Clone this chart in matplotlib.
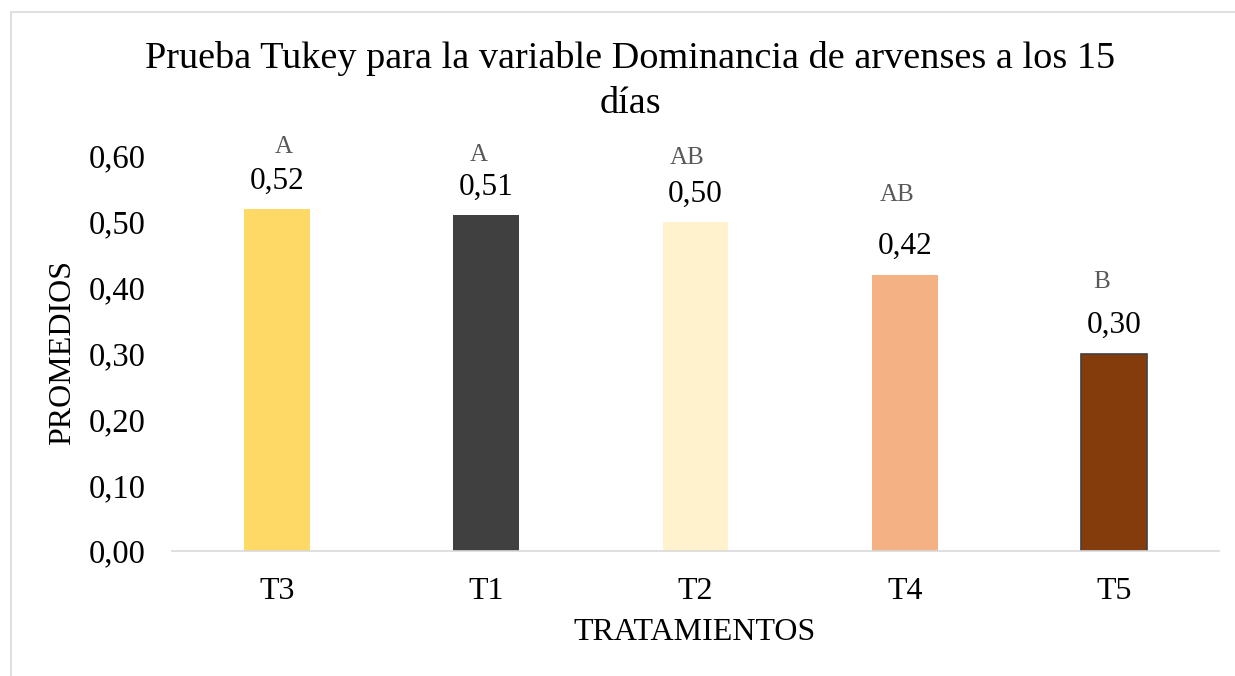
import numpy as np
import matplotlib
matplotlib.use("Agg")
import matplotlib.pyplot as plt
from matplotlib.patches import Rectangle

tratamientos = ["T3", "T1", "T2", "T4", "T5"]
promedios = [0.52, 0.51, 0.50, 0.42, 0.30]
letras = ["A", "A", "AB", "AB", "B"]
colores = ["#FFD966", "#404040", "#FFF2CC", "#F4B183", "#843C0C"]
bordes = ["none", "none", "none", "none", "#404040"]

# where the Tukey letters sit (hand placed in the original)
letra_y = [0.614, 0.602, 0.597, 0.541, 0.409]
letra_dx = [0.033, -0.033, -0.038, -0.038, -0.062]

plt.rcParams['font.family'] = ['Liberation Serif', 'DejaVu Serif']

def coma(v):
    return ("%.2f" % v).replace(".", ",")

fig = plt.figure(figsize=(12.35, 6.76), dpi=100)
ax = fig.add_axes([0.1393, 0.1849, 0.8477, 0.5843])

x = np.arange(len(tratamientos))
ax.bar(x, promedios, width=0.315, color=colores, edgecolor=bordes, linewidth=1.2, zorder=2)

for xi, v in zip(x, promedios):
    ax.annotate(coma(v), (xi, v), xytext=(0, 20), textcoords="offset points",
                ha="center", va="center", fontsize=22.5, color="black")

for xi, l, ly, dx in zip(x, letras, letra_y, letra_dx):
    ax.text(xi + dx, ly, l, ha="center", va="center", fontsize=18, color="#595959", clip_on=False)

ax.set_xlim(-0.5, len(tratamientos) - 0.5)
ax.set_ylim(0, 0.6)
yt = np.arange(0, 0.61, 0.1)
ax.set_yticks(yt)
ax.set_yticklabels([coma(t) for t in yt])
ax.set_xticks(x)
ax.set_xticklabels(tratamientos)
ax.tick_params(axis="y", length=0, pad=19, labelsize=23.5)
ax.tick_params(axis="x", length=0, pad=19, labelsize=23)
for s in ["top", "right", "left"]:
    ax.spines[s].set_visible(False)
ax.spines["bottom"].set_color("#D9D9D9")
ax.spines["bottom"].set_linewidth(1.2)

fig.text(695 / 1235, 1 - 632 / 676, "TRATAMIENTOS", ha="center", va="center", fontsize=23)
fig.text(63 / 1235, 1 - 353 / 676, "PROMEDIOS", ha="center", va="center", rotation=90, fontsize=23)
fig.text(630 / 1235, 1 - 41 / 676,
         "Prueba Tukey para la variable Dominancia de arvenses a los 15\ndías",
         ha="center", va="top", fontsize=27.5, linespacing=1.38)

fig.patches.append(Rectangle((11 / 1235, -0.1), 1.2, 1 - 12 / 676 + 0.1, transform=fig.transFigure,
                             fill=False, edgecolor="#D9D9D9", linewidth=1.2))

fig.savefig("out.png", dpi=100)
